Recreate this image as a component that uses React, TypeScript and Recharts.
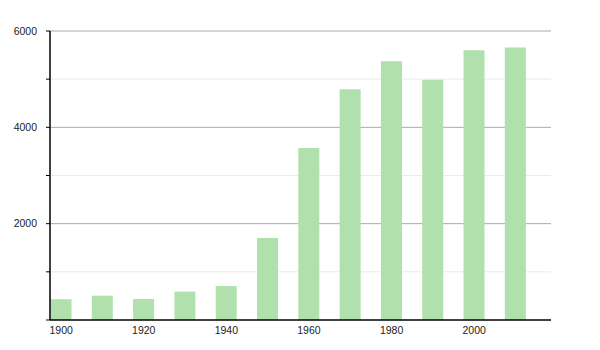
import React from 'react'
import { BarChart, Bar, XAxis, YAxis, CartesianGrid } from 'recharts'

const years = [1900, 1910, 1920, 1930, 1940, 1950, 1960, 1970, 1980, 1990, 2000, 2010]
const population = [430, 505, 435, 590, 705, 1700, 3570, 4790, 5370, 4990, 5600, 5660]
const xTicks = [1900, 1920, 1940, 1960, 1980, 2000]
const yTicks = [0, 1000, 2000, 3000, 4000, 5000, 6000]
const majorLines = [2000, 4000, 6000]
const minorLines = [1000, 3000, 5000]

const data = years.map((year, i) => ({ year, value: population[i] }))

const font = { fontFamily: '"Liberation Sans", Arial, sans-serif', fontSize: 10.5, fill: '#222' }

export default function App() {
    return (
        <div style={{ position: 'absolute', left: 0, top: 0, width: 600, height: 350, background: '#fff' }}>
            <BarChart width={600} height={350} data={data} margin={{ top: 31, right: 49, bottom: 0, left: 0 }}>
                <CartesianGrid vertical={false} horizontalValues={minorLines} stroke="#ebebeb" />
                <CartesianGrid vertical={false} horizontalValues={majorLines} stroke="#aaaaaa" />
                <XAxis
                    dataKey="year"
                    type="number"
                    domain={[1897.3, 2018.6]}
                    ticks={xTicks}
                    tickLine={false}
                    axisLine={{ stroke: '#000', strokeWidth: 1.5 }}
                    tick={font}
                    tickMargin={1}
                    height={30}
                    allowDataOverflow
                />
                <YAxis
                    type="number"
                    domain={[0, 6000]}
                    ticks={yTicks}
                    tickFormatter={(v: number) => (majorLines.includes(v) ? String(v) : '')}
                    tickSize={4}
                    tickMargin={9}
                    tickLine={{ stroke: '#000' }}
                    axisLine={{ stroke: '#000', strokeWidth: 1.5 }}
                    tick={font}
                    width={50}
                />
                <Bar dataKey="value" fill="#b0e0ac" barSize={21} isAnimationActive={false} />
            </BarChart>
        </div>
    )
}
